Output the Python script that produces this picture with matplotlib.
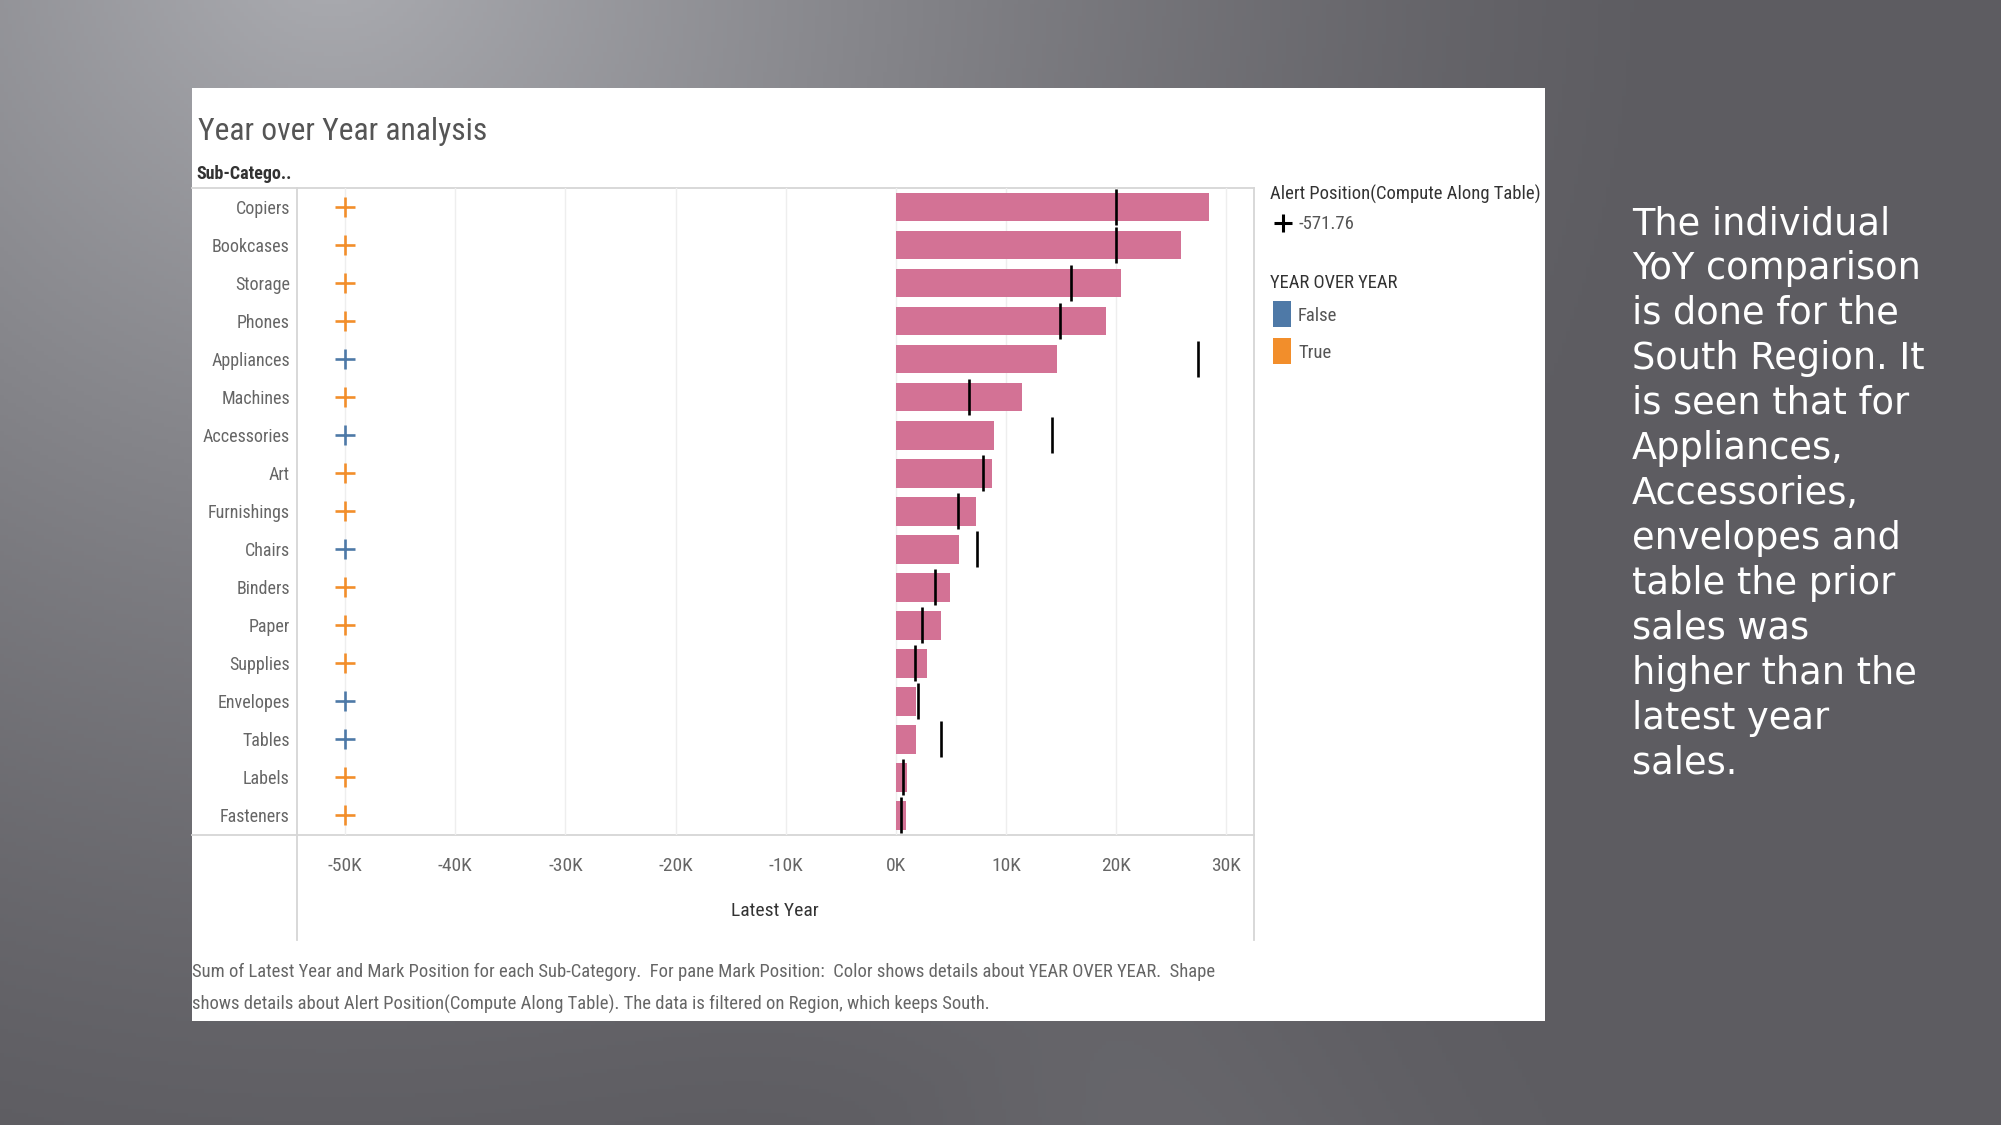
import numpy as np
import matplotlib
matplotlib.use('Agg')
import matplotlib.pyplot as plt
from matplotlib.patches import Rectangle
from matplotlib.lines import Line2D

# Data (South region)
sub_categories = ['Copiers', 'Bookcases', 'Storage', 'Phones', 'Appliances', 'Machines',
                  'Accessories', 'Art', 'Furnishings', 'Chairs', 'Binders', 'Paper',
                  'Supplies', 'Envelopes', 'Tables', 'Labels', 'Fasteners']
latest_year = [28400, 25900, 20400, 19100, 14600, 11400, 8900, 8700, 7300, 5750,
               4900, 4100, 2800, 1850, 1800, 1000, 900]
prior_year = [20000, 20000, 15900, 14900, 27400, 6600, 14200, 7900, 5600, 7400,
              3500, 2400, 1700, 2000, 4100, 600, 500]
mark_position = [-50000] * 17
year_over_year = [True, True, True, True, False, True, False, True, True, False,
                  True, True, True, False, False, True, True]
x_ticks = [-50000, -40000, -30000, -20000, -10000, 0, 10000, 20000, 30000]
x_tick_labels = ['-50K', '-40K', '-30K', '-20K', '-10K', '0K', '10K', '20K', '30K']
alert_value = '-571.76'

narrow = ['Roboto Condensed', 'DejaVu Sans Condensed', 'Liberation Sans Narrow', 'DejaVu Sans']
bar_color = '#D37295'
col_true = '#F28E2B'
col_false = '#4E79A7'
line_grey = '#d6d6d6'

W, H = 2001, 1125


def fx(px):
    return px / W


def fy(py):
    return 1 - py / H


fig = plt.figure(figsize=(W / 100, H / 100), dpi=100)

# slide background: grey with a lighter glow at top-left
bg = fig.add_axes([0, 0, 1, 1])
yy, xx = np.mgrid[0:H:4, 0:W:4]
d = np.hypot(xx - 330, (yy + 60) * 1.05)
t = np.clip(1 - d / 1350, 0, 1) ** 1.3
band = np.exp(-((xx - 0.45 * yy - 650) / 260) ** 2) * 0.12 * (yy / H)
t = np.clip(t + band, 0, 1)
dark = np.array([93, 92, 97]) / 255
light = np.array([172, 173, 178]) / 255
img = dark + (light - dark) * t[..., None]
bg.imshow(img, extent=[0, W, H, 0], aspect='auto')
bg.set_xlim(0, W)
bg.set_ylim(H, 0)
bg.axis('off')

# white dashboard panel
fig.add_artist(Rectangle((fx(191.5), fy(1021)), (1545 - 191.5) / W, (1021 - 87.7) / H,
                         transform=fig.transFigure, facecolor='white', edgecolor='none',
                         zorder=1))

# main chart
ax = fig.add_axes([fx(296.7), fy(834.5), (1254 - 296.7) / W, (834.5 - 188.4) / H], zorder=3)
ax.set_facecolor('none')
y = np.arange(len(sub_categories))

ax.barh(y, latest_year, height=0.74, color=bar_color, zorder=2)
ax.plot(prior_year, y, linestyle='none', marker='|', markersize=26, markeredgewidth=1.9,
        color='black', zorder=4)
for flag, col in [(True, col_true), (False, col_false)]:
    idx = [i for i, v in enumerate(year_over_year) if v == flag]
    ax.plot([mark_position[i] for i in idx], idx, linestyle='none', marker='+',
            markersize=15, markeredgewidth=1.9, color=col, zorder=4)

ax.set_xlim(-54400, 32500)
ax.set_ylim(len(sub_categories) - 0.5, -0.5)
ax.set_xticks(x_ticks)
ax.set_xticklabels(x_tick_labels, family=narrow, fontsize=14, color='#666666')
ax.set_yticks(y)
ax.set_yticklabels(sub_categories, family=narrow, fontsize=13, color='#666666')
ax.tick_params(axis='x', length=0, pad=16)
ax.tick_params(axis='y', length=0, pad=5)
ax.grid(axis='x', color='#eeeeee', linewidth=1.0, zorder=0)
ax.set_axisbelow(True)
for s in ax.spines.values():
    s.set_visible(False)
ax.set_xlabel('Latest Year', family=narrow, fontsize=14, color='#333333', labelpad=19.5)

# table borders
for (x0, x1, y0, y1) in [(192, 1254, 188.4, 188.4), (192, 1254, 834.5, 834.5),
                         (296.7, 296.7, 188.4, 940), (1254, 1254, 188.4, 940)]:
    fig.add_artist(Line2D([fx(x0), fx(x1)], [fy(y0), fy(y1)], transform=fig.transFigure,
                          color=line_grey, linewidth=1.3, zorder=2))

# title and header
fig.text(fx(198), fy(140), 'Year over Year analysis', family=narrow, fontsize=22.8,
         color='#555555', va='baseline', ha='left', zorder=5)
fig.text(fx(196), fy(174), 'Sub-Catego..', family=narrow, fontsize=13,
         color='#333333', fontweight='bold', va='center', ha='left', zorder=5)

# legends
fig.text(fx(1270), fy(194), 'Alert Position(Compute Along Table)', family=narrow,
         fontsize=13.4, color='#333333', va='center', ha='left', zorder=5)
fig.add_artist(Line2D([fx(1283)], [fy(223)], transform=fig.transFigure, marker='+',
                      markersize=13, markeredgewidth=2.2, color='black', zorder=5))
fig.text(fx(1298), fy(224), alert_value, family=narrow, fontsize=13.5, color='#555555',
         va='center', ha='left', zorder=5)
fig.text(fx(1270), fy(283), 'YEAR OVER YEAR', family=narrow, fontsize=13.3,
         color='#333333', va='center', ha='left', zorder=5)
for label, col, ytop in [('False', col_false, 300.7), ('True', col_true, 338.3)]:
    fig.add_artist(Rectangle((fx(1272.7), fy(ytop + 26)), 18 / W, 26 / H,
                             transform=fig.transFigure, facecolor=col, edgecolor='none',
                             zorder=5))
    fig.text(fx(1298), fy(ytop + 15), label, family=narrow, fontsize=13.5,
             color='#555555', va='center', ha='left', zorder=5)

# caption under the chart
fig.text(fx(192), fy(972),
         'Sum of Latest Year and Mark Position for each Sub-Category.  For pane Mark Position:  '
         'Color shows details about YEAR OVER YEAR.  Shape',
         family=narrow, fontsize=13.4, color='#666666', va='center', ha='left', zorder=5)
fig.text(fx(192), fy(1004),
         'shows details about Alert Position(Compute Along Table). The data is filtered on '
         'Region, which keeps South.',
         family=narrow, fontsize=13.4, color='#666666', va='center', ha='left', zorder=5)

# slide text
fig.text(fx(1632), fy(205),
         'The individual\nYoY comparison\nis done for the\nSouth Region. It\n'
         'is seen that for\nAppliances,\nAccessories,\nenvelopes and\n'
         'table the prior\nsales was\nhigher than the\nlatest year\nsales.',
         family='DejaVu Sans', fontsize=26.5, color='white', va='top', ha='left',
         linespacing=1.275, zorder=5)

fig.savefig('out.png', dpi=100)
